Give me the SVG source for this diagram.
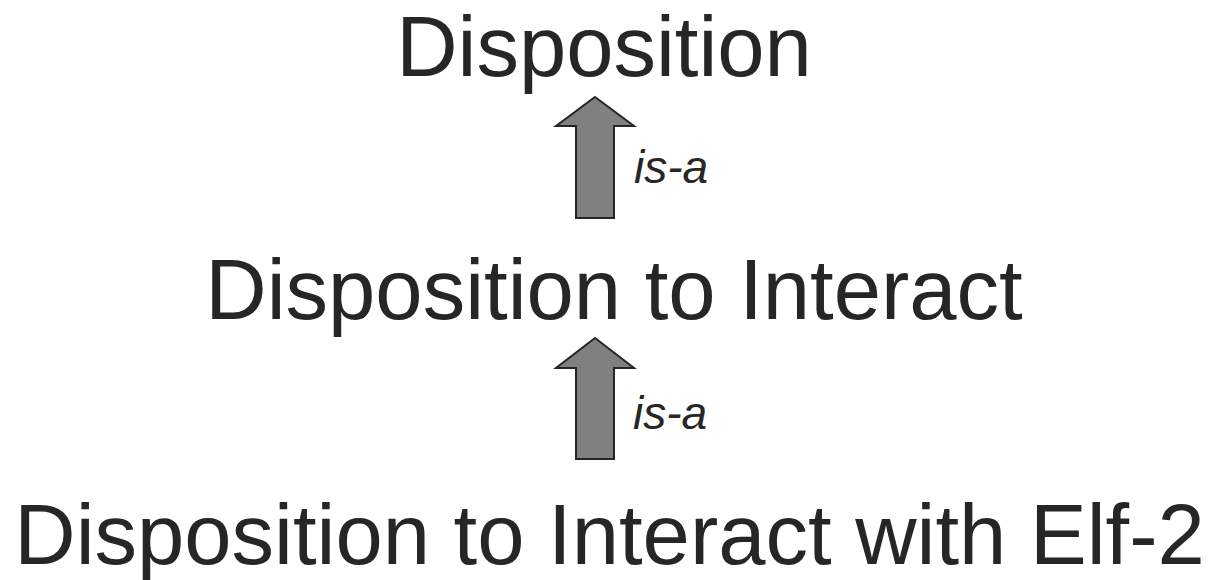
<svg xmlns="http://www.w3.org/2000/svg" width="1209" height="580" viewBox="0 0 1209 580">
<style>
.t{font-family:"Liberation Sans",Arial,sans-serif;fill:#262626;text-anchor:middle;font-size:85px}
.lbl{font-family:"Liberation Sans",Arial,sans-serif;font-style:italic;fill:#262626;font-size:46px}
.arr{fill:#808080;stroke:#262626;stroke-width:2;stroke-linejoin:miter}
</style>
<rect width="1209" height="580" fill="#fff"/>
<g id="n1"><text class="t" x="604" y="76">Disposition</text></g>
<g id="n2"><text class="t" x="614" y="319">Disposition to Interact</text></g>
<g id="n3"><text class="t" x="609.5" y="564">Disposition to Interact with Elf-2</text></g>
<g id="connectors">
<g id="e1"><polygon class="arr" points="595,97 634,126 614,126 614,218 576,218 576,126 556,126"/><text class="lbl" x="634" y="183">is-a</text></g>
<g id="e2"><polygon class="arr" points="595,338 634,368 614,368 614,459 576,459 576,368 556,368"/><text class="lbl" x="633" y="429">is-a</text></g>
</g>
</svg>
